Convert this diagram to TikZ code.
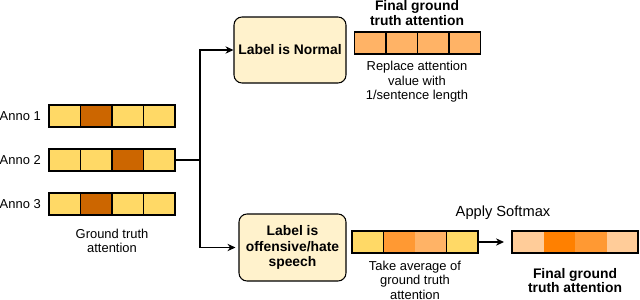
\documentclass[tikz,border=0pt]{standalone}
\usepackage{fontspec}
\setmainfont{Liberation Sans}
\usetikzlibrary{arrows.meta,calc}
\definecolor{yel}{HTML}{FFD966}
\definecolor{dkor}{HTML}{CC6600}
\definecolor{orm}{HTML}{FF9933}
\definecolor{lor}{HTML}{FFB366}
\definecolor{peach}{HTML}{FFCC99}
\definecolor{orf}{HTML}{FF8000}
\definecolor{boxfill}{HTML}{FFF2CC}
\tikzset{
  bar/.style={draw=black, line width=0.8pt, minimum width=126*0.75pt, minimum height=22*0.75pt, inner sep=0pt, outer sep=0pt},
  Y/.style={fill=yel, draw=black},
  D/.style={fill=dkor},
  O/.style={fill=orm},
  L/.style={fill=lor},
  LB/.style={fill=lor, draw=black},
  P/.style={fill=peach},
  F/.style={fill=orf},
  txt/.style={font=\fontsize{9.7}{10.9}\selectfont, align=center, inner sep=0pt},
  btxt/.style={font=\fontsize{10.4}{10.9}\selectfont\bfseries, align=center, inner sep=0pt},
  labelbox/.style={draw=black, line width=0.8pt, fill=boxfill, rounded corners=6pt, align=center, font=\fontsize{10.4}{11.4}\selectfont\bfseries, inner sep=0pt},
  conn/.style={line width=0.8pt},
  arr/.style={line width=0.8pt, -{Stealth[length=6pt,width=5.5pt]}},
}
\newcommand\attnbar[6]{%
  \node[bar] (#1) at (#2) {};
  \foreach \i/\c in {0/#3,1/#4,2/#5,3/#6}
    \path[\c, draw=none] ($(#1.north west)+(\i*31.5,0)$) rectangle +(31.5,22);
  \foreach \i/\c in {0/#3,1/#4,2/#5,3/#6}
    \path[\c, fill=none, line width=0.8pt] ($(#1.north west)+(\i*31.5,0)$) rectangle +(31.5,22);
  \draw[line width=0.8pt] (#1.north west) rectangle (#1.south east);
}
\begin{document}
\begin{tikzpicture}[x=0.75pt, y=-0.75pt]
\useasboundingbox (0,0) rectangle (640,300);

% annotator bars
\attnbar{a1}{112,116}{Y}{D}{Y}{Y}
\attnbar{a2}{112,160}{Y}{Y}{D}{Y}
\attnbar{a3}{112,204}{Y}{D}{Y}{Y}
\node[txt, anchor=east] (l1) at (41,116) {Anno 1};
\node[txt, anchor=east] (l2) at (41,160) {Anno 2};
\node[txt, anchor=east] (l3) at (41,204) {Anno 3};
\node[txt] (gt) at (112,241) {Ground truth\\attention};

% label boxes
\node[labelbox, minimum width=112*0.75pt, minimum height=66*0.75pt] (normal) at (290,50) {Label is Normal};
\node[labelbox, minimum width=107*0.75pt, minimum height=67*0.75pt] (off) at (292.5,247.5) {Label is\\offensive/hate\\speech};

% connectors
\coordinate (j) at (200,160);
\draw[conn] (a2.east) -- (j);
\draw[arr] (j) |- (normal.west);
\draw[arr] (j) |- ($(off.west)+(-3,0)$);

% top final
\attnbar{fin1}{417.5,43}{LB}{LB}{LB}{LB}
\node[btxt] (fin1t) at (417,13) {Final ground\\truth attention};
\node[txt] (rep) at (417,82) {Replace attention\\value with\\1/sentence length};

% average bar
\attnbar{avg}{415,242}{Y}{O}{L}{Y}
\node[txt] (avgt) at (415,280) {Take average of\\ground truth\\attention};
\node[txt, font=\fontsize{11}{12}\selectfont] (soft) at (503,213) {Apply Softmax};

% bottom final
\attnbar{fin2}{575,242}{P}{F}{O}{P}
\draw[arr, shorten >=6pt] (avg.east) -- (fin2.west);
\node[btxt] (fin2t) at (575,280.5) {Final ground\\truth attention};
\end{tikzpicture}
\end{document}
